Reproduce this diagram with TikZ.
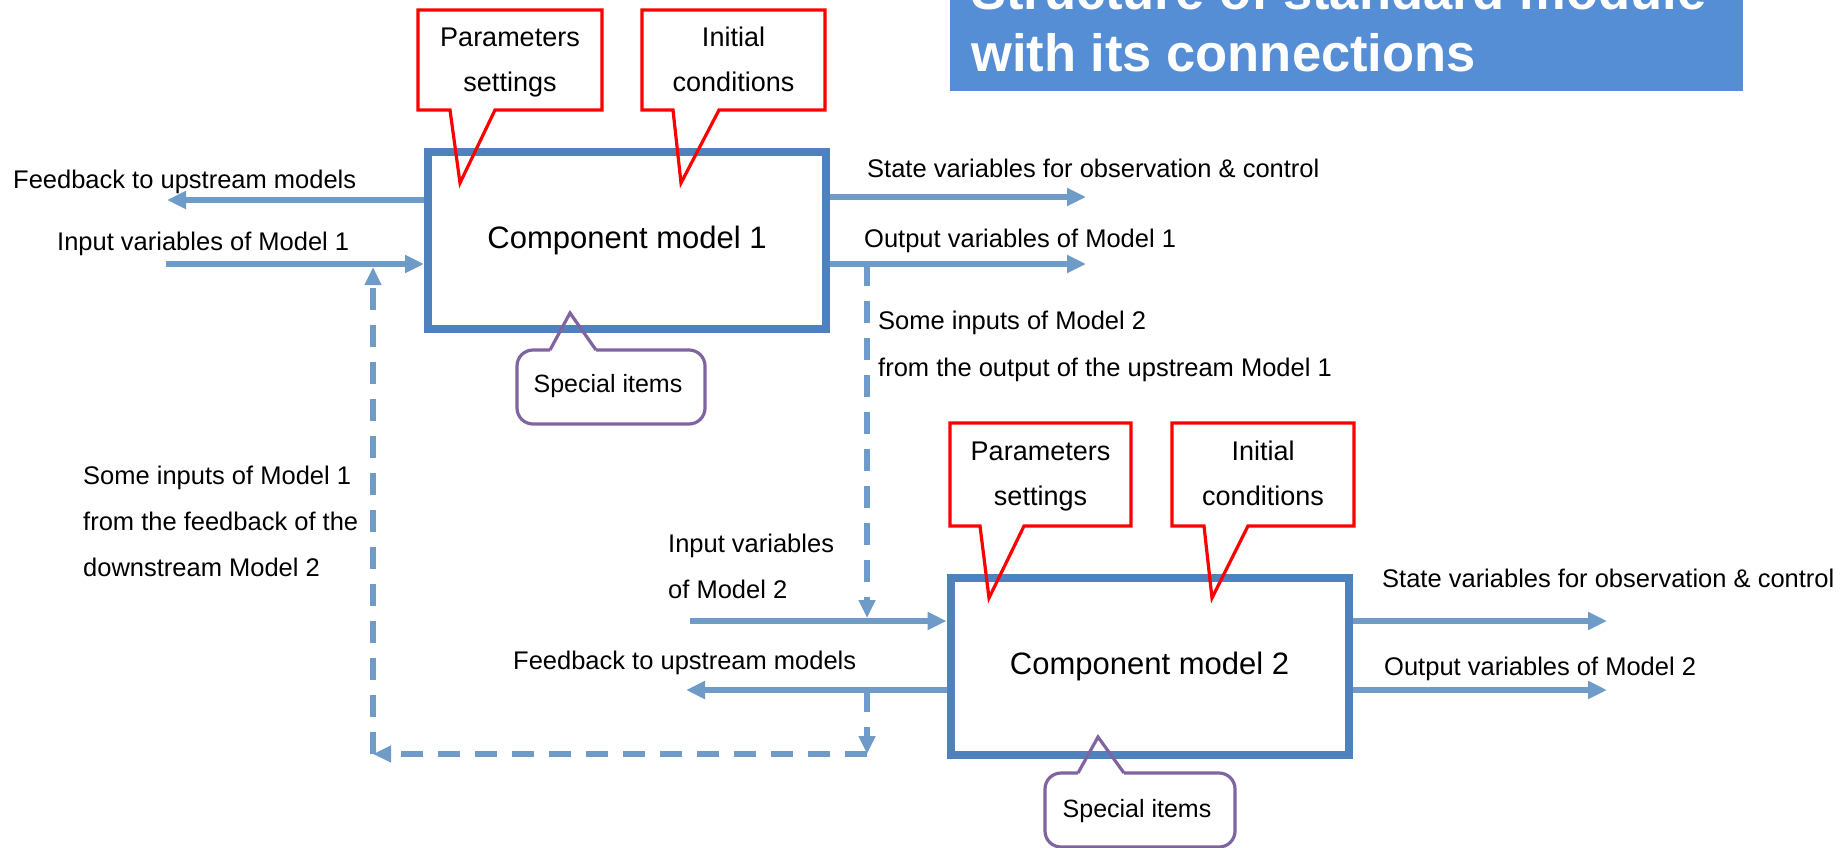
\documentclass[tikz,border=0pt]{standalone}
\usepackage{fontspec}
\setmainfont{Liberation Sans}
\usetikzlibrary{arrows.meta}
\definecolor{boxblue}{RGB}{79,129,189}
\definecolor{flowblue}{RGB}{110,155,200}
\definecolor{titleblue}{RGB}{85,142,213}
\definecolor{notepurple}{RGB}{128,100,162}
\definecolor{notered}{RGB}{255,0,0}
\begin{document}
\begin{tikzpicture}[x=1pt,y=-1pt,
  modelbox/.style={draw=boxblue, line width=8pt, minimum width=398pt, minimum height=177pt,
    inner sep=0pt, font=\fontsize{31}{36}\selectfont},
  lbl/.style={inner sep=0pt, anchor=base west, font=\fontsize{25.5}{30}\selectfont},
  notetext/.style={inner sep=0pt, anchor=base, font=\fontsize{27}{32}\selectfont},
  spectext/.style={inner sep=0pt, anchor=base, font=\fontsize{25}{30}\selectfont},
  titletext/.style={inner sep=0pt, anchor=base west, text=white, font=\bfseries\fontsize{52.5}{62}\selectfont},
  flow/.style={draw=flowblue, line width=6pt, -{Triangle[length=19pt,width=17pt]}},
  dashflow/.style={draw=flowblue, line width=5.5pt, dash pattern=on 22pt off 15pt,
    -{Triangle[length=18pt,width=16pt]}},
  redcall/.style={draw=notered, line width=3.2pt, line join=miter},
  purplecall/.style={draw=notepurple, line width=3.2pt},
]
\useasboundingbox (0,0) rectangle (1846,848);

% title banner
\node[fill=titleblue, minimum width=793pt, minimum height=101pt, inner sep=0pt, anchor=south west] (titlebar) at (950,91) {};
\node[titletext] (title1) at (971,10) {Structure of standard module};
\node[titletext] (title2) at (971,72) {with its connections};

% the two component models
\node[modelbox] (m1) at (627,240.5) {Component model 1};
\node[modelbox] (m2) at (1149.5,666) {Component model 2};

% free ends of the flows
\coordinate (fb1end) at (167,200);
\coordinate (in1start) at (166,264);
\coordinate (st1end) at (1086,197);
\coordinate (out1end) at (1086,264);
\coordinate (in2start) at (690,621);
\coordinate (fb2end) at (686,690);
\coordinate (st2end) at (1607,621);
\coordinate (out2end) at (1607,690);
\coordinate (tapR) at (867,264);
\coordinate (cornerR) at (867,754);
\coordinate (cornerL) at (373,754);

% flows of model 1
\draw[flow] (m1.west |- fb1end) -- (fb1end);
\draw[flow] (in1start) -- (m1.west |- in1start);
\draw[flow] (m1.east |- st1end) -- (st1end);
\draw[flow] (m1.east |- out1end) -- (out1end);

% flows of model 2
\draw[flow] (in2start) -- (m2.west |- in2start);
\draw[flow] (m2.west |- fb2end) -- (fb2end);
\draw[flow] (m2.east |- st2end) -- (st2end);
\draw[flow] (m2.east |- out2end) -- (out2end);

% couplings between the models
\draw[dashflow, shorten >=3pt] (tapR) -- (tapR |- in2start);
\draw[dashflow] (tapR |- fb2end) -- (cornerR);
\draw[dashflow] (cornerR) -- (cornerL);
\draw[dashflow, shorten >=3pt] (cornerL) -- (cornerL |- in1start);

% callouts of model 1
\draw[redcall] (418,10) -- (602,10) -- (602,110) -- (495,110) -- (460,183) -- (450,110) -- (418,110) -- cycle;
\node[notetext] (par1a) at (510,47) {Parameters};
\node[notetext] (par1b) at (510,92) {settings};
\draw[redcall] (642,10) -- (825,10) -- (825,110) -- (719,110) -- (681,183) -- (673,110) -- (642,110) -- cycle;
\node[notetext] (ini1a) at (733.5,47) {Initial};
\node[notetext] (ini1b) at (733.5,92) {conditions};
\draw[purplecall, rounded corners=16pt] (596,350) -- (705,350) -- (705,424) -- (517,424) -- (517,350) -- (550,350);
\draw[purplecall, line join=miter] (550,350) -- (570,313) -- (596,350);
\node[spectext] (spec1) at (608,392) {Special items};

% callouts of model 2
\draw[redcall] (950,423) -- (1131,423) -- (1131,526) -- (1024,526) -- (989,598) -- (980,526) -- (950,526) -- cycle;
\node[notetext] (par2a) at (1040.5,460) {Parameters};
\node[notetext] (par2b) at (1040.5,505) {settings};
\draw[redcall] (1172,423) -- (1354,423) -- (1354,526) -- (1248,526) -- (1212,598) -- (1204,526) -- (1172,526) -- cycle;
\node[notetext] (ini2a) at (1263,460) {Initial};
\node[notetext] (ini2b) at (1263,505) {conditions};
\draw[purplecall, rounded corners=16pt] (1124,773) -- (1235,773) -- (1235,847) -- (1045,847) -- (1045,773) -- (1078,773);
\draw[purplecall, line join=miter] (1078,773) -- (1098,737) -- (1124,773);
\node[spectext] (spec2) at (1137,817) {Special items};

% labels
\node[lbl] (fb1lbl) at (13,188) {Feedback to upstream models};
\node[lbl] (in1lbl) at (57,250) {Input variables of Model 1};
\node[lbl] (st1lbl) at (867,177) {State variables for observation \& control};
\node[lbl] (out1lbl) at (864,247) {Output variables of Model 1};
\node[lbl] (fwd1) at (878,329) {Some inputs of Model 2};
\node[lbl] (fwd2) at (878,376) {from the output of the upstream Model 1};
\node[lbl] (back1) at (83,484) {Some inputs of Model 1};
\node[lbl] (back2) at (83,530) {from the feedback of the};
\node[lbl] (back3) at (83,576) {downstream Model 2};
\node[lbl] (in2lbl1) at (668,552) {Input variables};
\node[lbl] (in2lbl2) at (668,598) {of Model 2};
\node[lbl] (fb2lbl) at (513,669) {Feedback to upstream models};
\node[lbl] (st2lbl) at (1382,587) {State variables for observation \& control};
\node[lbl] (out2lbl) at (1384,675) {Output variables of Model 2};
\end{tikzpicture}
\end{document}
